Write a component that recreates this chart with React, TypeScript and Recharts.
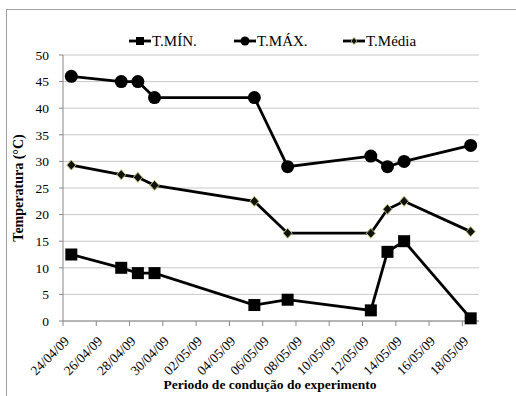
import React from 'react';
import { LineChart, Line, XAxis, YAxis, CartesianGrid } from 'recharts';

// datas das medições
const dates = ['24/04/09', '27/04/09', '28/04/09', '29/04/09', '05/05/09', '07/05/09', '12/05/09', '13/05/09', '14/05/09', '18/05/09'];
const tMin = [12.5, 10, 9, 9, 3, 4, 2, 13, 15, 0.5];
const tMax = [46, 45, 45, 42, 42, 29, 31, 29, 30, 33];
const tMedia = [29.3, 27.5, 27, 25.5, 22.5, 16.5, 16.5, 21, 22.5, 16.8];

const tickLabels = ['24/04/09', '26/04/09', '28/04/09', '30/04/09', '02/05/09', '04/05/09', '06/05/09', '08/05/09', '10/05/09', '12/05/09', '14/05/09', '16/05/09', '18/05/09'];
const yTicks = [0, 5, 10, 15, 20, 25, 30, 35, 40, 45, 50];

const FONT = "'Liberation Serif', 'DejaVu Serif', serif";

const toDay = (s: string) => {
    const [d, m, y] = s.split('/').map(Number);
    return Date.UTC(2000 + y, m - 1, d) / 86400000;
};
const day0 = toDay(tickLabels[0]);
const dayOf = (s: string) => toDay(s) - day0;

// Excel date axis: point sits in the middle of its day
const data = dates.map((d, i) => ({
    x: dayOf(d) + 0.5,
    min: tMin[i],
    max: tMax[i],
    media: tMedia[i],
}));

const SquareDot = (props: any) => {
    const { cx, cy } = props;
    if (cx == null || cy == null) return null;
    return <rect x={cx - 6} y={cy - 6} width={12} height={12} fill="#000" />;
};

const CircleDot = (props: any) => {
    const { cx, cy } = props;
    if (cx == null || cy == null) return null;
    return <circle cx={cx} cy={cy} r={6.5} fill="#000" />;
};

const DiamondDot = (props: any) => {
    const { cx, cy } = props;
    if (cx == null || cy == null) return null;
    return <polygon points={`${cx},${cy - 5} ${cx + 4.5},${cy} ${cx},${cy + 5} ${cx - 4.5},${cy}`} fill="#111" stroke="#b9b96a" strokeWidth={1} />;
};

const DateTick = (props: any) => {
    const { x, y, payload } = props;
    const label = tickLabels.find((t) => dayOf(t) === payload.value) || '';
    const ax = x + 7;
    const ay = y + 14;
    return (
        <text x={ax} y={ay} textAnchor="end" style={{ fontFamily: FONT }} fontSize={13.5} fill="#000" transform={`rotate(-45, ${ax}, ${ay})`}>
            {label}
        </text>
    );
};

const legendItems = [
    { name: 'T.MÍN.', marker: 'square', x: 129 },
    { name: 'T.MÁX.', marker: 'circle', x: 234 },
    { name: 'T.Média', marker: 'diamond', x: 343 },
];

const ChartLegend = () => (
    <svg width={516} height={20} style={{ position: 'absolute', left: 0, top: 31 }}>
        {legendItems.map((it) => {
            const cy = 10;
            const mx = it.x + 11;
            return (
                <g key={it.name}>
                    <line x1={it.x} y1={cy} x2={it.x + 22} y2={cy} stroke="#000" strokeWidth={2.8} />
                    {it.marker === 'square' && <rect x={mx - 4} y={cy - 4} width={8} height={8} fill="#000" />}
                    {it.marker === 'circle' && <circle cx={mx} cy={cy} r={4.5} fill="#000" />}
                    {it.marker === 'diamond' && (
                        <polygon points={`${mx},${cy - 3.5} ${mx + 3},${cy} ${mx},${cy + 3.5} ${mx - 3},${cy}`} fill="#111" stroke="#b9b96a" strokeWidth={0.8} />
                    )}
                    <text x={it.x + 23} y={cy + 5} style={{ fontFamily: FONT }} fontSize={15} fill="#000">
                        {it.name}
                    </text>
                </g>
            );
        })}
    </svg>
);

export default function App() {
    return (
        <div style={{ position: 'absolute', left: 0, top: 0, width: 516, height: 396, overflow: 'hidden', background: '#fff', fontFamily: FONT }}>
            <div style={{ position: 'absolute', left: 6, top: 9, width: 600, height: 500, border: '1px solid #a0a0a0' }} />
            <LineChart width={516} height={396} data={data} margin={{ top: 55, right: 37, bottom: 15, left: 18 }} style={{ fontFamily: FONT }}>
                <CartesianGrid vertical={false} stroke="#c8c8c8" />
                <XAxis
                    dataKey="x"
                    type="number"
                    domain={[0, 25]}
                    ticks={tickLabels.map(dayOf)}
                    tick={<DateTick />}
                    tickSize={5}
                    height={60}
                    stroke="#888"
                    interval={0}
                    allowDataOverflow
                />
                <YAxis
                    domain={[0, 50]}
                    ticks={yTicks}
                    width={45}
                    tickSize={4}
                    tickMargin={10}
                    stroke="#888"
                    tick={{ fill: '#000', fontFamily: FONT, fontSize: 13.5 }}
                    interval={0}
                />
                <Line dataKey="min" name="T.MÍN." stroke="#000" strokeWidth={2.8} dot={<SquareDot />} isAnimationActive={false} />
                <Line dataKey="max" name="T.MÁX." stroke="#000" strokeWidth={2.8} dot={<CircleDot />} isAnimationActive={false} />
                <Line dataKey="media" name="T.Média" stroke="#000" strokeWidth={2.8} dot={<DiamondDot />} isAnimationActive={false} />
            </LineChart>
            <ChartLegend />
            <div style={{ position: 'absolute', left: 270, top: 377, transform: 'translateX(-50%)', whiteSpace: 'nowrap', fontFamily: FONT, fontWeight: 'bold', fontSize: 13.5 }}>
                Periodo de condução do experimento
            </div>
            <div
                style={{
                    position: 'absolute',
                    left: 19,
                    top: 188,
                    transform: 'translate(-50%, -50%) rotate(-90deg)',
                    whiteSpace: 'nowrap',
                    fontFamily: FONT,
                    fontWeight: 'bold',
                    fontSize: 14,
                }}
            >
                Temperatura (°C)
            </div>
        </div>
    );
}
